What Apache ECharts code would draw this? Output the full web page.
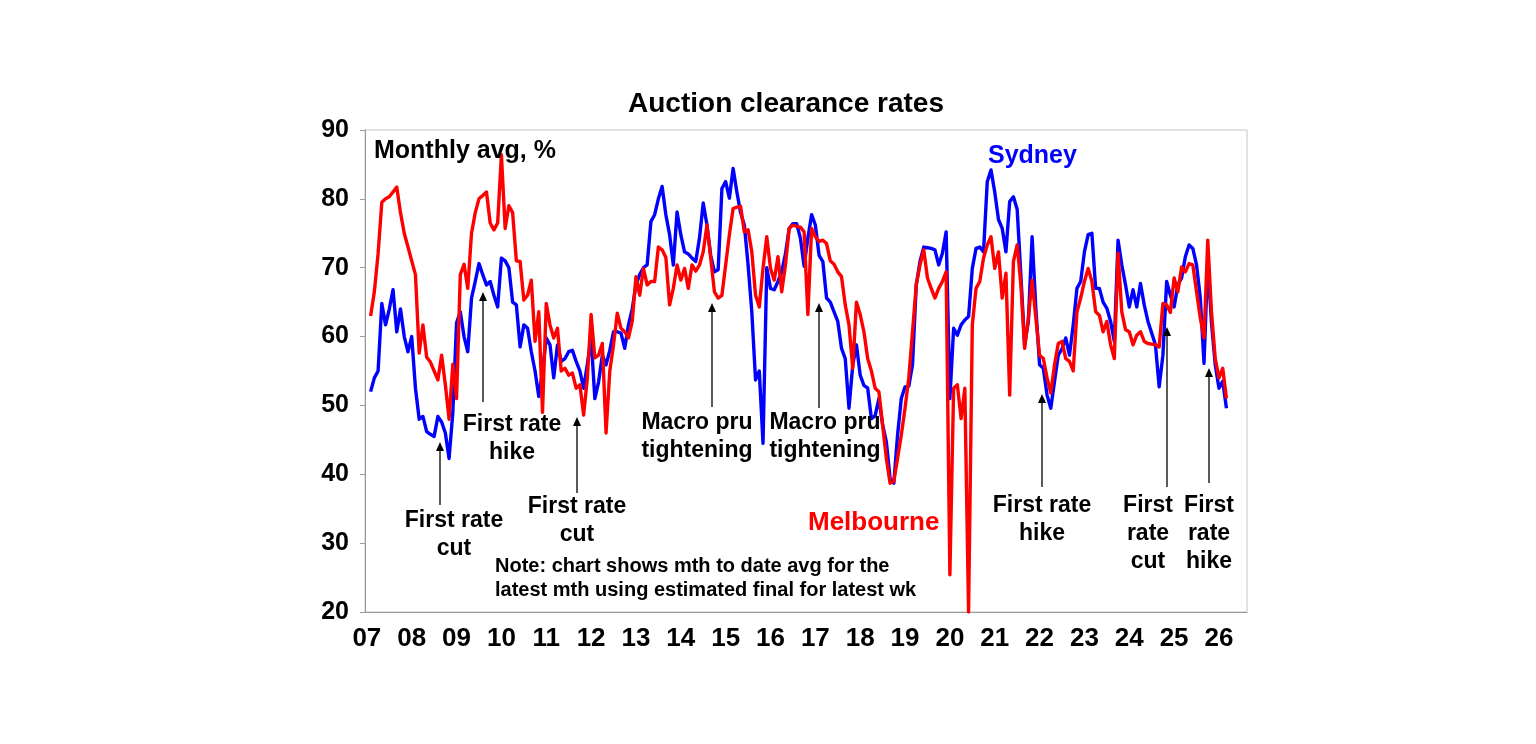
<!DOCTYPE html>
<html>
<head>
<meta charset="utf-8">
<title>Auction clearance rates</title>
<script src="https://cdn.jsdelivr.net/npm/echarts@6/dist/echarts.min.js"></script>
<style>
  html, body { margin: 0; padding: 0; background: #fff; }
  #chart { width: 1536px; height: 744px; }
</style>
</head>
<body>
<div id="chart"></div>
<script>
// year labels, one per January tick
const years = ['07','08','09','10','11','12','13','14','15','16',
               '17','18','19','20','21','22','23','24','25','26'];
const monthsOnAxis = 236; // axis runs on past the last month

// monthly avg clearance rate, %, one row per year (first slot empty)
const sydney = [
  null, 52, 54, 55, 64.8, 61.7, 64, 66.8, 60.7, 64, 60, 57.8,
  60, 52.5, 48, 48.4, 46.2, 45.8, 45.5, 48.4, 47.6, 46, 42.3, 49,
  62, 63.6, 60, 57.8, 65.6, 68, 70.6, 69, 67.5, 68, 66, 64.3,
  71.4, 71, 70, 65, 64.6, 58.5, 61.7, 61.2, 57.8, 55, 51.3, 55,
  59.8, 58.8, 54, 58.8, 56.4, 56.8, 57.8, 58, 56.4, 55, 52.5, 56,
  59.8, 51, 53.4, 57.3, 55.9, 58, 60.7, 60.7, 60.5, 58.3, 61.7, 64,
  67.5, 69, 70, 70.4, 76.7, 77.7, 80, 81.8, 77.7, 74.8, 70.4, 78.1,
  74.8, 72.3, 72, 71.4, 70.9, 74.3, 79.4, 76.2, 71.8, 69.4, 69.7, 81.5,
  82.5, 80.1, 84.4, 81, 78, 76.2, 70.4, 63.6, 53.7, 55, 44.5, 70,
  67, 66.8, 68, 69.4, 72, 75.7, 76.4, 76.4, 74.3, 70.2, 74.3, 77.7,
  76.2, 71.8, 70.9, 65.6, 65, 63.6, 62.2, 58.3, 56.8, 49.6, 55.8, 58.8,
  54.4, 52.9, 52.5, 48.1, 48.5, 51, 47.2, 44.7, 39.4, 38.7, 45.7, 51,
  52.7, 52.8, 55.9, 67.5, 70.9, 73, 72.9, 72.8, 72.6, 70.4, 72.1, 75.2,
  51, 61.2, 60.2, 61.7, 62.4, 62.9, 69.9, 72.8, 73, 72.3, 82.5, 84.2,
  81, 77, 75.7, 72.3, 79.6, 80.3, 78.5, 68.9, 58.8, 62.2, 74.5, 64.1,
  55.9, 55.4, 51.5, 49.6, 53.5, 57.3, 58.2, 59.8, 57.3, 61.7, 67, 68,
  72.3, 74.8, 75, 67, 67, 65, 64.1, 62.2, 59.3, 74, 70.4, 67.5,
  64.3, 66.8, 64.3, 67.7, 64.6, 62.2, 60.5, 58.8, 52.7, 57.3, 68, 66,
  64.3, 67.5, 68.5, 71.6, 73.3, 72.8, 70.4, 65.6, 56.1, 70.9, 62, 55.9,
  52.5, 53.5, 49.6
];
const melbourne = [
  null, 63, 66.5, 72, 79.5, 80, 80.3, 81, 81.7, 78, 75, 73,
  71, 69, 57.6, 61.7, 57, 56.3, 55, 53.7, 57.3, 53, 48, 56,
  51, 69, 70.5, 67, 75, 78, 80, 80.5, 81, 76.5, 75.5, 76.5,
  86.4, 75.7, 79, 78, 71, 70.9, 65.3, 66, 68.2, 59.3, 63.6, 49,
  64.8, 61.7, 59.8, 61.2, 55, 55.4, 54.4, 54.7, 52.5, 53, 48.6, 54,
  63.2, 56.9, 57.3, 59, 46, 55, 58.8, 63.4, 61.2, 60.7, 59.8, 62.2,
  68.7, 66, 69.9, 67.5, 68, 68, 73, 72.6, 71.5, 64.6, 67, 70.4,
  68.2, 69.9, 67, 70.4, 69.5, 70.4, 72.3, 76.2, 71.4, 66.5, 65.6, 66,
  70.4, 74.8, 78.6, 78.8, 78.9, 75.2, 75.5, 72.3, 66, 64.3, 69.9, 74.5,
  69.9, 68.2, 71.6, 66.5, 70.4, 75.7, 76.2, 76, 75.9, 75.2, 63.2, 75.7,
  74.5, 73.8, 74, 73.5, 71, 70.5, 69.4, 68.7, 64.6, 61.7, 55.4, 65,
  63.2, 60.7, 56.8, 55, 52.5, 52, 47.2, 42.3, 38.7, 39, 42.3, 45.7,
  49.6, 54, 60.7, 67.5, 70.4, 72.6, 68.5, 67, 65.6, 67, 68, 69.4,
  25.4, 52.5, 53, 48.1, 52.5, 20, 61.7, 67, 68, 71.4, 73.3, 74.5,
  69.9, 72.3, 65.6, 69.2, 51.5, 70.9, 73.3, 67.5, 58.3, 62.7, 68.2, 62.7,
  57.3, 56.8, 54, 51.8, 55.9, 59, 59.3, 56.8, 56.4, 55, 63.6, 65.6,
  68, 69.9, 68, 63.6, 63.1, 60.7, 62.2, 58.8, 56.8, 72.1, 63.6, 61,
  60.7, 58.8, 60.2, 60.7, 59.3, 59, 58.9, 58.8, 58.5, 64.8, 64.6, 63.5,
  68.5, 66.5, 70.1, 69.4, 70.6, 70.4, 66.5, 62.7, 59.8, 74, 63.6, 56.8,
  54, 55.4, 51
];

// monthly categories, labelled by year
const months = [];
for (let i = 0; i < monthsOnAxis; i++) months.push(years[Math.floor(i / 12)]);

const FONT = '"Liberation Sans", Arial, sans-serif';

// annotation text blocks: [centre x, centre y, text]
const notes = [
  [454, 535, 'First rate\ncut'],
  [512, 439, 'First rate\nhike'],
  [577, 521, 'First rate\ncut'],
  [697, 437, 'Macro pru\ntightening'],
  [825, 437, 'Macro pru\ntightening'],
  [1042, 520, 'First rate\nhike'],
  [1148, 534, 'First\nrate\ncut'],
  [1209, 534, 'First\nrate\nhike']
];
// arrows: [x, tip y, base y]
const arrows = [
  [440, 442, 505], [483, 292, 402], [577, 417, 493], [712, 303, 407],
  [819, 303, 408], [1042, 394, 487], [1167, 327, 487], [1209, 368, 483]
];

const graphics = [];
function txt(x, y, text, size, color, align, lh) {
  graphics.push({
    type: 'text', x: x, y: y, z: 100,
    style: {
      text: text, font: 'bold ' + size + 'px ' + FONT, fill: color,
      textAlign: align || 'center', textVerticalAlign: 'middle',
      lineHeight: lh || Math.round(size * 1.2)
    }
  });
}
txt(786, 104, 'Auction clearance rates', 28, '#000');
txt(374, 151, 'Monthly avg, %', 25, '#000', 'left');
txt(988, 156, 'Sydney', 25, '#0000ff', 'left');
txt(808, 523, 'Melbourne', 26, '#ff0000', 'left');
txt(495, 578, 'Note: chart shows mth to date avg for the\nlatest mth using estimated final for latest wk', 20, '#000', 'left', 24);
notes.forEach(n => txt(n[0], n[1], n[2], 23, '#000', 'center', 28));
arrows.forEach(a => {
  graphics.push({
    type: 'line', z: 100,
    shape: { x1: a[0], y1: a[2], x2: a[0], y2: a[1] + 6 },
    style: { stroke: '#000', lineWidth: 1.3 }
  });
  graphics.push({
    type: 'polygon', z: 100,
    shape: { points: [[a[0], a[1]], [a[0] - 4, a[1] + 9], [a[0] + 4, a[1] + 9]] },
    style: { fill: '#000' }
  });
});

const chart = echarts.init(document.getElementById('chart'));
chart.setOption({
  backgroundColor: '#fff',
  animation: false,
  grid: {
    left: 365, top: 130, width: 882, height: 482,
    show: true, borderColor: '#c4c4c4', borderWidth: 1
  },
  xAxis: {
    type: 'category',
    data: months,
    boundaryGap: true,
    axisLine: { lineStyle: { color: '#9a9a9a', width: 1 } },
    axisTick: { interval: 11, length: 6, lineStyle: { color: '#9a9a9a' } },
    axisLabel: {
      interval: 11, margin: 14, color: '#000',
      fontSize: 26, fontWeight: 'bold', fontFamily: FONT
    },
    splitLine: { show: false }
  },
  yAxis: {
    type: 'value',
    min: 20, max: 90, interval: 10,
    axisLine: { show: true, lineStyle: { color: '#9a9a9a', width: 1 } },
    axisTick: { show: true, length: 5, lineStyle: { color: '#9a9a9a' } },
    axisLabel: {
      margin: 16, color: '#000',
      fontSize: 25, fontWeight: 'bold', fontFamily: FONT
    },
    splitLine: { show: false }
  },
  series: [
    {
      name: 'Sydney', type: 'line', data: sydney,
      showSymbol: false, symbol: 'none',
      lineStyle: { color: '#0000ff', width: 3.4, join: 'round' },
      itemStyle: { color: '#0000ff' }
    },
    {
      name: 'Melbourne', type: 'line', data: melbourne,
      showSymbol: false, symbol: 'none',
      lineStyle: { color: '#ff0000', width: 3.4, join: 'round' },
      itemStyle: { color: '#ff0000' }
    }
  ],
  graphic: graphics
});
</script>
</body>
</html>
